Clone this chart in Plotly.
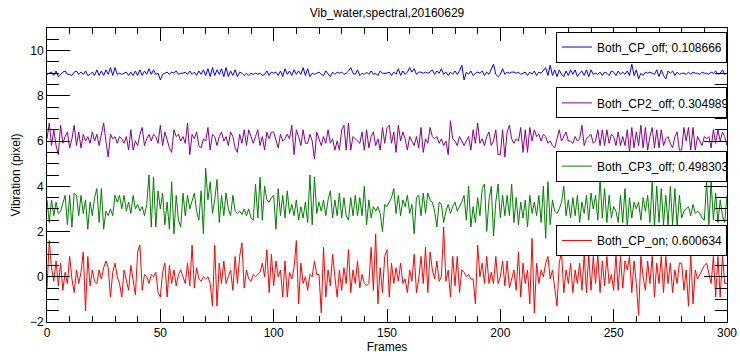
import plotly.graph_objects as go

# Frame index and vibration traces (pixels) for the four CP configurations
frames = list(range(301))

cp_off = [
    8.95, 9.0, 9.05, 8.9, 9.1, 8.85, 8.95, 9.05, 9.1, 8.95,
    8.95, 8.9, 9.05, 9.1, 8.95, 9.05, 8.95, 9.1, 8.9, 8.95,
    9.05, 8.9, 9.15, 8.9, 9.1, 8.9, 9.15, 8.95, 9.25, 8.9,
    9.25, 8.95, 9.0, 8.95, 9.0, 9.05, 8.9, 9.05, 8.9, 9.1,
    8.9, 9.15, 8.9, 9.1, 8.95, 9.2, 8.95, 9.15, 8.95, 9.0,
    8.7, 8.95, 9.0, 9.05, 8.95, 9.05, 9.0, 9.1, 8.95, 9.0,
    9.0, 9.05, 8.95, 9.1, 8.95, 9.05, 8.9, 9.1, 8.95, 9.15,
    8.9, 9.2, 8.85, 9.25, 8.9, 9.15, 8.95, 9.2, 8.85, 9.25,
    8.85, 9.1, 8.9, 9.15, 8.85, 9.05, 9.0, 8.9, 9.0, 8.9,
    9.0, 8.95, 9.0, 8.95, 9.0, 8.9, 8.95, 9.1, 8.9, 9.05,
    9.0, 9.05, 8.9, 9.1, 8.85, 9.2, 8.95, 9.1, 8.9, 9.15,
    8.95, 9.1, 8.95, 9.25, 8.9, 9.2, 8.85, 9.0, 8.95, 9.0,
    9.05, 8.95, 8.9, 9.1, 8.95, 8.85, 9.05, 8.95, 9.05, 9.0,
    9.05, 8.95, 9.0, 9.1, 9.25, 9.0, 8.95, 9.15, 8.9, 9.0,
    8.95, 9.05, 8.95, 9.1, 8.95, 9.0, 8.9, 9.1, 9.0, 9.0,
    9.0, 9.05, 8.9, 9.05, 8.95, 9.2, 8.9, 9.1, 8.95, 9.05,
    9.25, 9.05, 9.2, 8.95, 9.05, 9.05, 9.0, 9.05, 9.0, 9.05,
    9.15, 8.95, 9.1, 9.0, 9.2, 8.95, 9.05, 8.9, 9.05, 8.95,
    9.1, 8.95, 9.1, 9.35, 8.7, 9.05, 8.95, 9.1, 8.9, 9.0,
    9.05, 9.0, 9.1, 8.9, 9.05, 8.95, 9.2, 9.4, 8.95, 8.85,
    8.95, 9.2, 8.95, 9.05, 9.0, 9.05, 9.05, 9.0, 9.05, 8.95,
    9.0, 9.05, 8.9, 9.05, 8.95, 9.1, 8.9, 9.05, 9.0, 9.15,
    9.25, 8.9, 9.35, 8.9, 9.15, 8.85, 9.15, 8.95, 8.85, 9.1,
    8.9, 9.15, 8.95, 9.15, 8.85, 9.0, 9.1, 8.9, 9.15, 8.85,
    9.15, 8.95, 9.0, 8.95, 9.05, 8.9, 9.05, 9.0, 8.9, 9.1,
    9.05, 8.9, 9.1, 8.95, 9.05, 8.95, 9.1, 8.9, 9.4, 8.9,
    9.15, 8.75, 9.0, 8.9, 9.05, 9.0, 9.05, 9.0, 8.95, 9.15,
    8.85, 9.15, 8.9, 8.75, 9.1, 9.0, 9.1, 8.9, 9.05, 8.95,
    9.0, 9.0, 8.95, 9.05, 8.95, 9.05, 9.0, 9.0, 8.95, 9.05,
    9.0, 9.0, 8.95, 9.05, 9.0, 9.1, 8.95, 9.0, 9.15, 8.95,
    9.0,
]

cp2_off = [
    6.1, 6.8, 5.8, 6.5, 5.8, 5.4, 6.7, 5.9, 6.2, 6.4,
    5.7, 6.1, 6.7, 5.8, 6.4, 5.7, 6.3, 6.0, 6.2, 5.9,
    6.4, 6.0, 6.3, 5.8, 6.3, 6.8, 6.0, 5.3, 6.3, 6.1,
    6.2, 5.9, 6.2, 6.1, 5.9, 6.2, 5.6, 6.5, 5.6, 6.0,
    5.8, 6.3, 6.6, 5.8, 6.1, 6.3, 6.0, 6.3, 6.2, 5.9,
    6.7, 5.8, 6.4, 6.0, 5.7, 5.5, 6.5, 6.2, 6.3, 6.0,
    6.2, 5.9, 6.8, 5.4, 6.3, 6.1, 6.4, 5.8, 5.7, 6.1,
    6.0, 6.6, 5.6, 6.3, 6.2, 5.8, 6.2, 6.4, 6.0, 6.2,
    5.8, 6.4, 6.2, 5.7, 5.5, 6.3, 5.9, 6.5, 5.8, 6.5,
    6.2, 5.9, 6.2, 6.5, 5.8, 6.2, 5.6, 6.4, 6.1, 6.4,
    6.4, 6.0, 5.7, 6.3, 6.0, 6.1, 6.3, 6.1, 6.7, 5.4,
    6.5, 6.2, 5.8, 6.5, 5.9, 5.9, 6.3, 6.0, 5.2, 6.4,
    6.1, 5.8, 6.2, 5.9, 6.5, 5.9, 6.1, 5.6, 6.0, 5.6,
    6.5, 6.7, 5.6, 6.8, 5.6, 6.2, 6.1, 6.0, 5.9, 6.4,
    5.6, 6.5, 5.7, 6.2, 6.4, 5.8, 6.1, 5.6, 6.6, 5.9,
    6.6, 6.7, 5.9, 6.4, 5.5, 6.7, 6.0, 6.4, 6.1, 5.6,
    6.2, 6.0, 5.8, 6.2, 5.7, 6.6, 5.5, 6.1, 5.9, 6.6,
    6.2, 6.1, 6.2, 5.9, 6.1, 5.8, 6.0, 5.4, 6.9, 6.1,
    6.0, 5.8, 6.2, 6.0, 5.8, 6.0, 6.2, 5.6, 6.5, 5.9,
    6.8, 5.9, 6.1, 5.8, 6.2, 6.4, 5.8, 6.0, 6.5, 5.4,
    5.4, 6.5, 5.3, 6.4, 6.7, 6.1, 5.9, 6.1, 6.0, 6.6,
    5.5, 6.5, 5.5, 6.6, 6.0, 6.5, 6.2, 6.3, 6.0, 6.3,
    6.2, 5.9, 6.0, 5.8, 5.7, 6.1, 6.5, 6.0, 6.2, 6.4,
    6.0, 6.0, 5.9, 6.2, 6.0, 6.1, 6.7, 5.8, 6.1, 6.2,
    6.3, 5.9, 6.0, 6.5, 5.8, 6.5, 5.8, 6.5, 5.9, 6.3,
    6.2, 5.8, 6.4, 5.8, 6.2, 5.8, 6.5, 5.5, 6.6, 5.7,
    6.4, 5.8, 6.7, 5.7, 6.6, 5.6, 6.2, 6.6, 5.7, 6.5,
    5.7, 6.5, 5.8, 6.1, 6.2, 5.9, 5.7, 6.2, 6.4, 5.6,
    5.6, 6.6, 6.0, 6.6, 5.6, 6.6, 5.6, 6.2, 6.0, 5.8,
    6.2, 6.1, 6.2, 5.7, 6.5, 5.9, 6.5, 6.0, 6.4, 6.2,
    5.8,
]

cp3_off = [
    3.4, 2.4, 3.4, 2.7, 3.3, 2.8, 2.9, 3.2, 3.6, 2.3,
    3.6, 2.2, 3.7, 3.6, 2.7, 3.6, 2.8, 3.4, 2.1, 3.3,
    2.7, 3.5, 3.9, 2.4, 3.9, 2.1, 2.9, 2.7, 3.0, 2.7,
    3.6, 3.3, 3.6, 3.0, 3.6, 2.9, 3.3, 2.8, 3.6, 3.0,
    3.2, 2.9, 3.1, 2.7, 3.2, 4.5, 2.2, 4.4, 2.2, 3.8,
    3.0, 3.7, 2.3, 3.3, 2.1, 4.2, 1.9, 3.6, 2.5, 2.2,
    3.7, 2.7, 3.6, 3.0, 3.3, 3.7, 2.9, 2.5, 3.8, 1.9,
    4.8, 3.4, 4.2, 2.8, 3.4, 4.3, 2.4, 3.6, 2.7, 3.7,
    3.0, 2.7, 3.6, 2.9, 2.8, 2.9, 2.75, 3.0, 2.7, 3.0,
    2.6, 2.5, 4.1, 2.6, 4.4, 2.5, 4.0, 3.4, 3.3, 3.5,
    3.6, 2.1, 3.9, 2.7, 3.6, 2.6, 3.8, 2.8, 3.2, 2.7,
    3.4, 2.5, 3.1, 2.6, 3.3, 2.4, 4.5, 2.3, 4.4, 2.8,
    3.3, 2.9, 3.4, 2.7, 3.4, 3.8, 2.6, 3.4, 2.7, 3.7,
    2.6, 3.5, 2.7, 2.5, 3.5, 2.7, 3.6, 2.7, 3.5, 2.7,
    4.0, 2.3, 3.4, 2.6, 3.1, 2.9, 3.1, 2.8, 2.0, 3.2,
    3.1, 3.3, 3.5, 3.9, 2.8, 3.6, 2.7, 3.4, 3.1, 3.6,
    2.8, 3.2, 1.9, 3.5, 3.6, 2.7, 3.7, 2.8, 3.7, 3.4,
    3.3, 2.9, 2.2, 3.3, 3.2, 2.4, 2.9, 3.2, 2.8, 3.1,
    3.3, 2.9, 3.1, 3.3, 3.6, 2.5, 4.0, 2.2, 3.1, 2.4,
    3.5, 2.7, 3.9, 4.1, 2.0, 3.4, 4.0, 1.8, 3.3, 4.1,
    2.6, 3.6, 2.7, 3.6, 2.7, 4.1, 2.4, 3.5, 2.3, 3.3,
    2.6, 3.4, 2.2, 3.6, 2.8, 3.3, 2.7, 3.6, 2.4, 4.0,
    1.7, 4.2, 2.3, 3.4, 2.9, 2.8, 3.0, 3.3, 4.0, 2.7,
    3.4, 2.6, 3.5, 2.7, 3.6, 2.4, 3.3, 2.8, 3.6, 2.5,
    3.7, 3.0, 3.6, 2.5, 4.3, 2.6, 3.9, 2.4, 3.6, 2.6,
    3.1, 2.9, 2.4, 3.6, 2.4, 3.9, 2.2, 3.5, 2.6, 3.3,
    3.0, 3.3, 2.5, 3.5, 2.9, 3.6, 2.4, 4.2, 2.2, 4.0,
    2.4, 3.9, 2.3, 3.6, 2.3, 4.0, 2.3, 3.9, 2.2, 3.6,
    2.6, 2.9, 3.0, 3.1, 2.7, 3.2, 2.8, 2.9, 2.8, 2.6,
    2.5, 4.2, 2.3, 4.2, 2.5, 3.7, 2.4, 3.4, 2.7, 2.4,
    3.6,
]

cp_on = [
    -0.5, 1.6, 0.4, -0.2, 0.7, -0.4, 0.6, -0.6, 0.2, -0.3,
    0.9, -0.1, -0.7, 0.3, -0.3, 0.2, 1.1, -1.5, 0.9, -0.4,
    0.3, -0.2, -0.3, 0.3, -0.1, 0.4, 0.7, 0.4, -0.9, 0.2,
    0.6, 0.0, -0.3, -0.9, 0.3, -0.2, -0.6, 0.5, -0.2, -0.8,
    1.1, 1.4, -0.6, 0.1, 0.0, -0.3, 0.1, 0.0, 0.2, -0.7,
    -0.9, 0.2, 0.6, -0.9, 0.5, -0.3, 0.3, -0.4, 0.1, 0.3,
    0.0, -0.3, 0.6, -0.4, 1.4, -0.5, 0.4, -0.1, -0.2, 0.0,
    -0.1, 0.0, -0.3, -1.3, 1.4, -1.3, 0.6, -0.3, 0.7, -0.3,
    0.0, 0.3, -0.6, 0.9, -0.3, 0.9, 1.5, -0.5, 0.3, -0.1,
    -0.2, 0.1, 0.0, 0.1, 0.2, 0.6, 0.0, 1.2, -0.7, 1.0,
    -0.4, 0.7, 0.0, 0.3, -0.9, 0.7, -0.9, 0.2, -0.1, 0.4,
    1.6, -1.2, 0.6, -0.3, 0.0, -0.6, 0.1, 0.0, 0.7, 0.1,
    0.1, -1.6, 1.3, -0.9, 0.3, -0.4, 1.0, 0.0, -0.9, 0.3,
    -0.6, 0.4, -0.3, 1.2, -0.7, 0.3, -0.3, 0.7, -0.5, 0.1,
    -0.3, -0.4, -0.3, 1.3, -0.6, 1.9, -1.2, 0.4, -0.7, 0.9,
    1.2, -0.9, 0.6, -0.3, 0.4, -0.2, 0.6, -0.3, -0.1, -0.7,
    0.3, -0.2, 1.0, -0.7, -0.1, 0.9, -0.3, 1.3, -0.7, 1.1,
    0.3, -0.1, 0.7, -0.2, 0.0, 2.2, -0.2, 0.3, -0.9, 0.9,
    -0.4, 0.9, -0.7, 0.3, 0.2, 0.0, 0.1, -0.1, -0.1, -1.2,
    1.4, 0.0, 0.6, -0.3, 0.9, -0.3, 0.2, -0.3, 0.9, -0.3,
    0.0, 0.7, -0.4, 0.7, -0.5, -0.1, 0.3, -0.6, 1.1, -0.9,
    0.6, -0.3, 0.3, -1.2, 1.7, -1.6, 0.6, -0.3, 0.3, 0.0,
    0.6, 0.9, -0.1, 0.3, -0.6, -1.3, 0.6, 1.1, -0.7, 0.3,
    -0.3, 0.6, -0.7, 0.3, -0.3, 0.6, -0.6, 1.0, -0.7, 1.0,
    -0.6, 0.9, -0.3, 1.0, -0.7, 0.7, -0.4, 0.9, -0.3, 0.1,
    -0.6, 1.0, -0.6, 0.9, -0.5, 0.7, 0.3, 0.9, -0.7, 0.7,
    -0.3, -1.7, 0.9, 0.0, -0.6, 0.7, -0.3, 0.9, -0.9, 0.6,
    -0.3, 0.9, -0.7, 0.9, -0.3, 0.6, -0.7, 0.3, -0.3, 0.6,
    0.6, -0.6, 0.3, -1.3, 1.0, -1.2, 0.3, -0.1, 0.1, 0.3,
    0.5, 0.6, 0.2, -0.3, 0.9, -0.9, 0.9, -0.9, 0.9, -0.3,
    -0.3,
]

series_names = ["Both_CP_off", "Both_CP2_off", "Both_CP3_off", "Both_CP_on"]
series_stats = ["0.108666", "0.304989", "0.498303", "0.600634"]
series_values = [cp_off, cp2_off, cp3_off, cp_on]
series_colors = ["#0000FF", "#880088", "#008000", "#FF0000"]

# top edge of each legend box, as a fraction of the plot height
legend_tops = [0.988, 0.798, 0.583, 0.330]
legend_keys = ["legend", "legend2", "legend3", "legend4"]

FONT = "Liberation Sans, Arial, Helvetica, sans-serif"

fig = go.Figure()
for name, stat, vals, color, lkey in zip(series_names, series_stats, series_values,
                                         series_colors, legend_keys):
    fig.add_trace(go.Scatter(
        x=frames, y=vals, mode="lines",
        line=dict(color=color, width=1),
        name=f"{name}; {stat}",
        legend=lkey,
        showlegend=True,
    ))

legend_style = dict(
    x=1.0, xanchor="right", yanchor="top",
    orientation="h", entrywidth=124, entrywidthmode="pixels",
    bgcolor="white", bordercolor="black", borderwidth=1,
    font=dict(family=FONT, size=12, color="black"),
    itemclick=False, itemdoubleclick=False,
)
layout_legends = {}
for lkey, top in zip(legend_keys, legend_tops):
    layout_legends[lkey] = dict(legend_style, y=top)

fig.update_layout(
    width=740, height=356,
    margin=dict(l=47, r=13, t=28, b=34, autoexpand=False),
    showlegend=True,
    paper_bgcolor="white", plot_bgcolor="white",
    font=dict(family=FONT, size=12, color="black"),
    title=dict(text="Vib_water,spectral,20160629", x=0.5, xref="paper",
               y=1 - 13.0 / 356, yref="container", yanchor="middle",
               font=dict(family=FONT, size=12, color="black")),
    xaxis=dict(
        range=[0, 300], tick0=0, dtick=50, automargin=False,
        ticks="inside", ticklen=13, tickwidth=1, tickcolor="black",
        showline=True, linecolor="black", linewidth=1, mirror="allticks",
        showgrid=False, zeroline=False,
        minor=dict(dtick=10, ticks="inside", ticklen=6, tickwidth=1,
                   tickcolor="black", showgrid=False),
        title=dict(text="Frames", standoff=2, font=dict(size=12)),
        tickfont=dict(size=12),
    ),
    yaxis=dict(
        range=[-2, 11], tick0=0, dtick=2, automargin=False,
        ticks="inside", ticklen=23, tickwidth=1, tickcolor="black",
        showline=True, linecolor="black", linewidth=1, mirror="allticks",
        showgrid=False, zeroline=False,
        minor=dict(dtick=0.5, ticks="inside", ticklen=12, tickwidth=1,
                   tickcolor="black", showgrid=False),
        title=dict(text="Vibration (pixel)", standoff=6, font=dict(size=12)),
        tickfont=dict(size=12),
    ),
    **layout_legends,
)

fig.write_html("out.html")
